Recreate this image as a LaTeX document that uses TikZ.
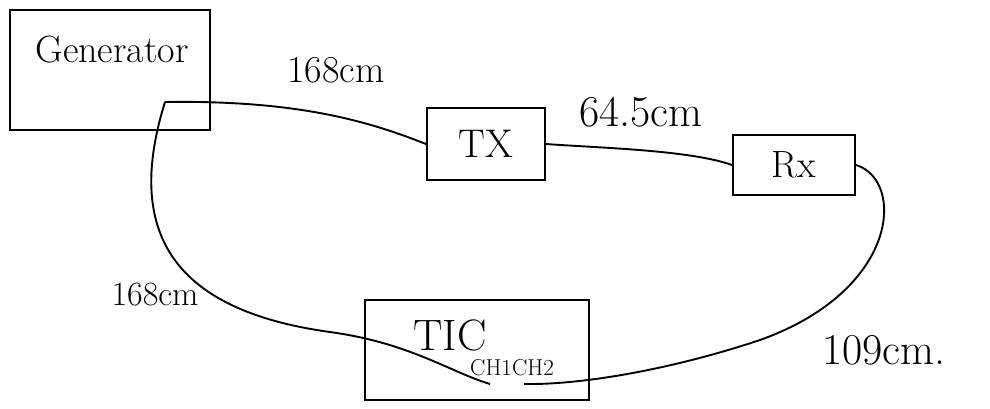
\documentclass[tikz,border=0pt]{standalone}
\usepackage{fontspec}
\begin{document}
\begin{tikzpicture}[x=1pt,y=-1pt,
  box/.style={draw,line width=2pt,inner sep=0pt},
  wire/.style={line width=1.9pt},
  lbl/.style={font=\fontsize{38}{42}\selectfont},
  big/.style={font=\fontsize{44}{48}\selectfont},
  small/.style={font=\fontsize{23}{26}\selectfont}]
\useasboundingbox (0,0) rectangle (990,408);
% boxes
\node[box,minimum width=200pt,minimum height=120pt] (gen) at (110,70) {};
\node[lbl] (gentext) at (112,50) {Generator};
\node[box,minimum width=118pt,minimum height=72pt,font=\fontsize{40}{44}\selectfont] (tx) at (486,144) {TX};
\node[box,minimum width=122pt,minimum height=60pt,lbl] (rx) at (794,165) {Rx};
\node[box,minimum width=224pt,minimum height=100pt] (tic) at (477,350) {};
\node[big] (tictext) at (450,335) {TIC};
\node[small] (chtext) at (512,368) {CH1CH2};
% ports
\coordinate (genport) at (165,102);
\coordinate (ch1) at (490,384);
\coordinate (ch2) at (524,384);
% labels
\node[lbl] (l1) at (336,70) {168cm};
\node[big] (l2) at (641,112) {64.5cm};
\node[font=\fontsize{34}{38}\selectfont] (l3) at (155,295) {168cm};
\node[big] (l4) at (884,350) {109cm.};
% wires
\draw[wire] (genport) .. controls (300,100) and (370,122) .. (tx.west);
\draw[wire] (tx.east) .. controls (600,148) and (690,150) .. (rx.west);
\draw[wire] (genport) .. controls (125,230) and (170,310) .. (330,332)
  .. controls (410,343) and (450,372) .. (ch1);
\draw[wire] (rx.east) .. controls (905,180) and (900,290) .. (760,340)
  .. controls (670,370) and (580,385) .. (ch2);
\end{tikzpicture}
\end{document}
